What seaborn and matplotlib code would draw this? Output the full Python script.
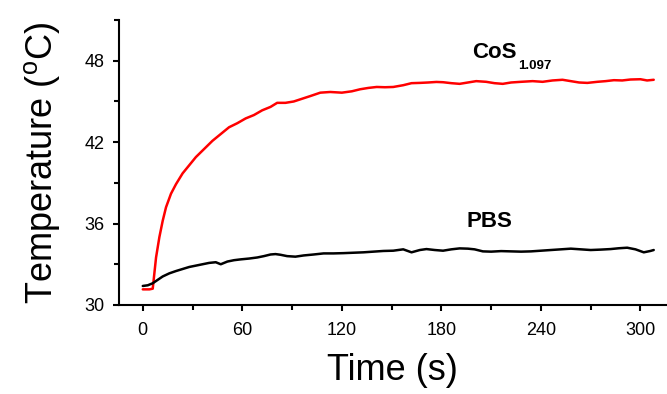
import numpy as np
import pandas as pd
import matplotlib
matplotlib.use("Agg")
import matplotlib.pyplot as plt
import seaborn as sns
import matplotlib.ticker as ticker

# data
cos_time = [0, 2, 4, 6, 8, 10, 12, 14, 17, 20, 24, 28, 32, 37, 42, 47, 52, 57, 62,
            67, 72, 77, 81, 86, 91, 96, 101, 107, 113, 120, 126, 131, 136, 141, 146,
            151, 157, 162, 167, 172, 177, 181, 186, 191, 196, 201, 207, 212, 217, 222,
            228, 235, 241, 247, 253, 258, 263, 268, 274, 279, 284, 289, 294, 300, 304, 308]
cos_temp = [31.15, 31.15, 31.15, 31.2, 33.5, 35.0, 36.2, 37.2, 38.2, 38.9, 39.7, 40.3,
            40.9, 41.5, 42.1, 42.6, 43.1, 43.4, 43.75, 44.0, 44.35, 44.6, 44.9, 44.9,
            45.0, 45.2, 45.4, 45.65, 45.7, 45.65, 45.75, 45.9, 46.0, 46.07, 46.05, 46.07,
            46.2, 46.35, 46.37, 46.4, 46.44, 46.42, 46.35, 46.3, 46.4, 46.5, 46.45, 46.35,
            46.3, 46.4, 46.45, 46.5, 46.45, 46.55, 46.6, 46.5, 46.4, 46.37, 46.45, 46.5,
            46.57, 46.55, 46.62, 46.64, 46.55, 46.6]

pbs_time = [0, 3, 6, 9, 12, 16, 20, 24, 28, 32, 36, 40, 44, 47, 51, 55, 59, 64, 69, 73,
            77, 80, 83, 87, 92, 97, 103, 109, 115, 121, 127, 133, 139, 145, 151, 157, 162,
            167, 171, 176, 181, 186, 191, 196, 200, 205, 210, 216, 222, 228, 234, 240,
            246, 252, 258, 264, 270, 276, 282, 287, 292, 297, 302, 306, 308]
pbs_temp = [31.4, 31.45, 31.6, 31.85, 32.1, 32.33, 32.5, 32.65, 32.8, 32.9, 33.0, 33.1,
            33.15, 33.0, 33.2, 33.3, 33.36, 33.42, 33.5, 33.6, 33.72, 33.75, 33.7, 33.6,
            33.56, 33.65, 33.72, 33.8, 33.8, 33.82, 33.85, 33.88, 33.93, 33.98, 34.0, 34.1,
            33.88, 34.05, 34.12, 34.05, 34.0, 34.1, 34.17, 34.15, 34.1, 33.95, 33.93, 33.97,
            33.95, 33.93, 33.95, 34.0, 34.05, 34.1, 34.15, 34.1, 34.05, 34.08, 34.12, 34.18,
            34.22, 34.1, 33.88, 33.98, 34.05]

x_ticks = [0, 60, 120, 180, 240, 300]
y_ticks = [30, 36, 42, 48]

df = pd.concat([
    pd.DataFrame({"time": cos_time, "temp": cos_temp, "sample": "CoS"}),
    pd.DataFrame({"time": pbs_time, "temp": pbs_temp, "sample": "PBS"}),
])

# style
sns.set_style("ticks")
plt.rcParams["font.family"] = ["Liberation Sans", "DejaVu Sans"]
plt.rcParams["mathtext.fontset"] = "custom"
plt.rcParams["mathtext.rm"] = "Liberation Sans"
plt.rcParams["mathtext.default"] = "regular"
plt.rcParams["text.color"] = "black"
plt.rcParams["axes.labelcolor"] = "black"

fig = plt.figure(figsize=(6.67, 3.94), dpi=100)
ax = fig.add_axes([0.178, 0.226, 0.822, 0.723])

sns.lineplot(data=df, x="time", y="temp", hue="sample",
             palette={"CoS": "#ff0000", "PBS": "black"},
             linewidth=1.8, legend=False, ax=ax, estimator=None, sort=False)

ax.set_xlim(-14.5, 316)
ax.set_ylim(30, 51)
ax.set_xticks(x_ticks)
ax.set_yticks(y_ticks)
ax.xaxis.set_minor_locator(ticker.MultipleLocator(30))
ax.yaxis.set_minor_locator(ticker.MultipleLocator(3))
ax.tick_params(axis="both", which="major", length=4.5, width=1.5, labelsize=13, colors="black")
ax.tick_params(axis="both", which="minor", length=3.5, width=1.5, colors="black")
ax.tick_params(axis="x", which="major", pad=8)
ax.tick_params(axis="y", which="major", pad=6)

sns.despine(ax=ax)
for side in ["left", "bottom"]:
    ax.spines[side].set_linewidth(1.5)
    ax.spines[side].set_color("black")

ax.set_xlabel("Time (s)", fontsize=26, labelpad=10)
ax.set_ylabel("Temperature ($^{o}$C)", fontsize=26, labelpad=16)

# sample labels, subscript placed by hand like the original
ax.text(198.4, 48.2, "CoS", fontsize=16, fontweight="bold", ha="left", va="baseline")
ax.text(226.5, 47.4, "1.097", fontsize=9.5, fontweight="bold", ha="left", va="baseline")
ax.text(195.4, 35.75, "PBS", fontsize=16, fontweight="bold", ha="left", va="baseline")

fig.savefig("out.png", dpi=100)
